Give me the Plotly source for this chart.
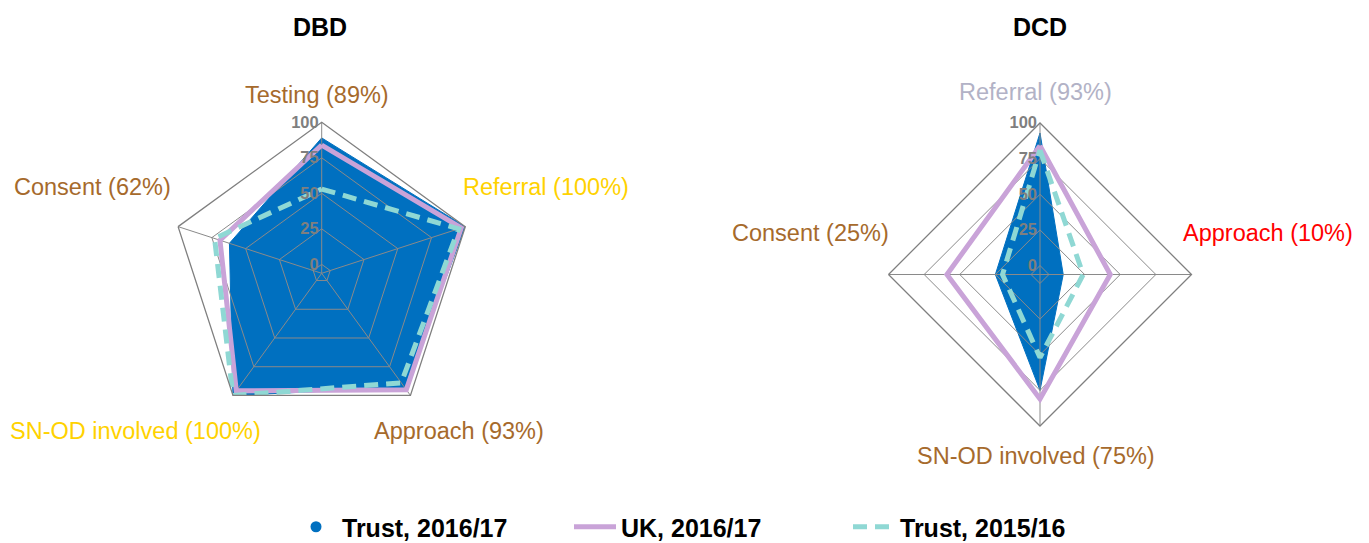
import plotly.graph_objects as go

# ---------------- data ----------------
dbd_categories = ["Testing", "Referral", "Approach", "SN-OD involved", "Consent"]
dbd_trust_1617 = [89, 100, 93, 100, 62]
dbd_uk_1617 = [84, 97, 95, 96, 69]
dbd_trust_1516 = [53, 95, 89, 100, 73]

dcd_categories = ["Referral", "Approach", "SN-OD involved", "Consent"]
dcd_trust_1617 = [93, 10, 75, 25]
dcd_uk_1617 = [84, 43, 81, 59]
dcd_trust_1516 = [81, 24, 52, 20]

radial_ticks = [0, 25, 50, 75, 100]
series_names = ["Trust, 2016/17", "UK, 2016/17", "Trust, 2015/16"]
panel_titles = ["DBD", "DCD"]

# ---------------- styles ----------------
FONT = "Liberation Sans, Arial, sans-serif"
BLUE = "#0070C0"
PURPLE = "#C9A3D8"
TEAL = "#8FD8D4"
GRID = "#8A8A8A"
BROWN = "#A66A2C"
GOLD = "#FFD200"
LAV = "#B2B2C6"
RED = "#FF0000"

W, H = 1369, 543
RMIN = -6.3

dbd_label_colors = [BROWN, GOLD, BROWN, GOLD, BROWN]
dcd_label_colors = [LAV, RED, BROWN, BROWN]
dbd_label_pos = [(317, 95), (546, 187), (459, 431), (135, 431), (92, 187)]
dcd_label_pos = [(1035, 92), (1268, 233), (1036, 456), (810, 233)]
title_pos = [(320, 27), (1040, 27)]


def dom(cx, cy, r):
    return dict(x=[(cx - r) / W, (cx + r) / W], y=[1 - (cy + r) / H, 1 - (cy - r) / H])


dbd_dom = dom(321.7, 273.3, 151)
dcd_dom = dom(1040, 274.5, 151.5)


def closed(vals):
    return list(vals) + [vals[0]]


fig = go.Figure()

# legend dot for Trust 2016/17
fig.add_trace(go.Scatterpolar(
    r=[None], theta=[None], mode="markers", subplot="polar",
    marker=dict(color=BLUE, size=11), name=series_names[0],
    legendgroup="t17", showlegend=True, hoverinfo="skip"))

# filled Trust 2016/17 (bottom subplots)
for sub, cats, vals in [("polar", dbd_categories, dbd_trust_1617),
                        ("polar2", dcd_categories, dcd_trust_1617)]:
    fig.add_trace(go.Scatterpolar(
        r=closed(vals), theta=closed(cats), subplot=sub, mode="lines",
        fill="toself", fillcolor=BLUE, line=dict(color=BLUE, width=1),
        name=series_names[0], legendgroup="t17", showlegend=False))

# lines (top subplots, above grid)
for i, (sub, cats, uk, t16) in enumerate([
        ("polar3", dbd_categories, dbd_uk_1617, dbd_trust_1516),
        ("polar4", dcd_categories, dcd_uk_1617, dcd_trust_1516)]):
    fig.add_trace(go.Scatterpolar(
        r=closed(uk), theta=closed(cats), subplot=sub, mode="lines",
        line=dict(color=PURPLE, width=5), name=series_names[1],
        legendgroup="uk", showlegend=(i == 0)))
    fig.add_trace(go.Scatterpolar(
        r=closed(t16), theta=closed(cats), subplot=sub, mode="lines",
        line=dict(color=TEAL, width=5, dash="14px,8px"), name=series_names[2],
        legendgroup="t16", showlegend=(i == 0)))


def bottom_polar(d, cats):
    return dict(
        domain=d, gridshape="linear", bgcolor="white",
        radialaxis=dict(range=[RMIN, 100], showgrid=False, showline=False,
                        showticklabels=False, ticks=""),
        angularaxis=dict(type="category", categoryarray=cats, categoryorder="array",
                         direction="clockwise", rotation=90, showgrid=False,
                         showline=False, showticklabels=False, ticks=""))


def top_polar(d, cats):
    return dict(
        domain=d, gridshape="linear", bgcolor="rgba(0,0,0,0)",
        radialaxis=dict(range=[RMIN, 100], tickvals=radial_ticks, angle=90,
                        tickangle=90, side="counterclockwise",
                        showgrid=True, gridcolor=GRID, gridwidth=1,
                        showline=False, ticks="",
                        tickfont=dict(family=FONT, size=16.5, color="#7F7F7F", weight="bold")),
        angularaxis=dict(type="category", categoryarray=cats, categoryorder="array",
                         direction="clockwise", rotation=90, showgrid=True,
                         gridcolor=GRID, gridwidth=1, showline=True,
                         linecolor="#7F7F7F", linewidth=1.3,
                         showticklabels=False, ticks=""))


annotations = []
for (x, y), t in zip(title_pos, panel_titles):
    annotations.append(dict(x=x / W, y=1 - y / H, xref="paper", yref="paper",
                            text=f"<b>{t}</b>", showarrow=False,
                            font=dict(family=FONT, size=25, color="black"),
                            xanchor="center", yanchor="middle"))
for cats, vals, cols, poss in [(dbd_categories, dbd_trust_1617, dbd_label_colors, dbd_label_pos),
                               (dcd_categories, dcd_trust_1617, dcd_label_colors, dcd_label_pos)]:
    for c, v, col, (x, y) in zip(cats, vals, cols, poss):
        annotations.append(dict(x=x / W, y=1 - y / H, xref="paper", yref="paper",
                                text=f"{c} ({v}%)", showarrow=False,
                                font=dict(family=FONT, size=23.5, color=col),
                                xanchor="center", yanchor="middle"))

fig.update_layout(
    width=W, height=H, margin=dict(l=0, r=0, t=0, b=0, autoexpand=False),
    paper_bgcolor="white", plot_bgcolor="white",
    polar=bottom_polar(dbd_dom, dbd_categories),
    polar2=bottom_polar(dcd_dom, dcd_categories),
    polar3=top_polar(dbd_dom, dbd_categories),
    polar4=top_polar(dcd_dom, dcd_categories),
    annotations=annotations,
    showlegend=True,
    legend=dict(orientation="h", xref="container", yref="container",
                x=290 / W, xanchor="left", y=(H - 527) / H, yanchor="middle",
                font=dict(family=FONT, size=25, color="black", weight="bold"),
                itemwidth=42, entrywidth=222, bgcolor="rgba(0,0,0,0)"),
)

fig.write_html("out.html")
